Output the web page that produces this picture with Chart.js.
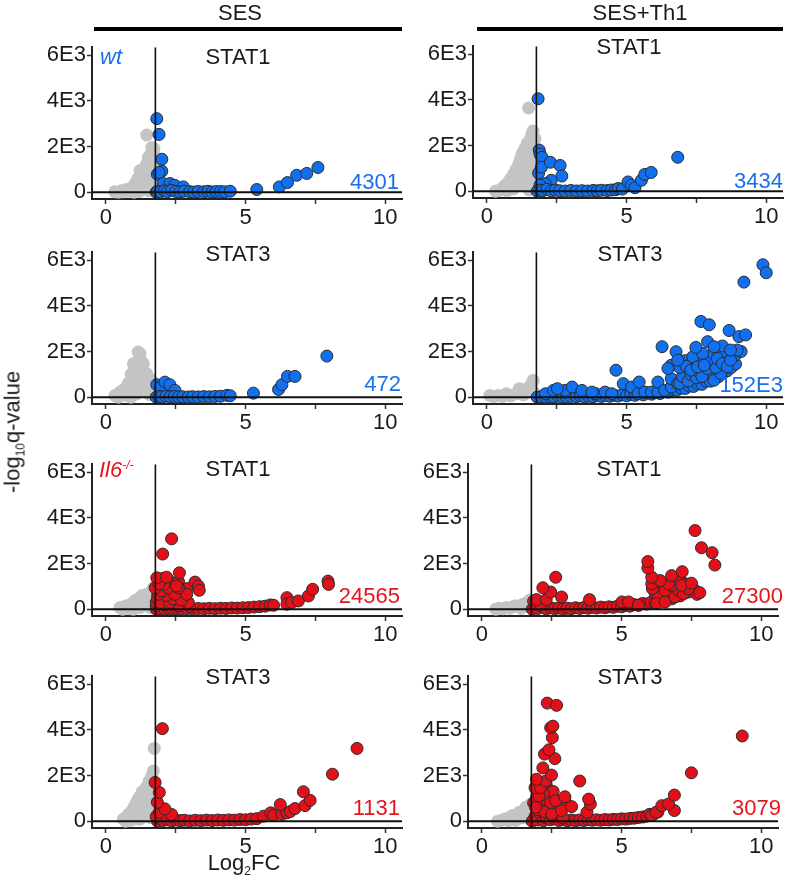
<!DOCTYPE html>
<html>
<head>
<meta charset="utf-8">
<script src="https://cdn.jsdelivr.net/npm/chart.js@4.4.0/dist/chart.umd.min.js"></script>
<style>
  html, body { margin: 0; padding: 0; background: #fff; }
  #page { position: relative; width: 788px; height: 883px; overflow: hidden; font-family: "Liberation Sans", Arial, sans-serif; color: #1a1a1a; }
  canvas { position: absolute; }
  .t { position: absolute; white-space: nowrap; line-height: 1; font-size: 22px; }
  .c { transform: translate(-50%, -50%); }
  .r { transform: translateY(-50%); text-align: right; }
  .l { transform: translateY(-50%); }
  .bar { position: absolute; background: #000; height: 4px; }
  sup { font-size: 12px; vertical-align: 8px; }
  sub { font-size: 12px; vertical-align: -5px; }
</style>
</head>
<body>
<div id="page"></div>
<script>
// ---------------- data ----------------
const columns = ['SES', 'SES+Th1'];
const panelTitles = ['STAT1', 'STAT1', 'STAT3', 'STAT3', 'STAT1', 'STAT1', 'STAT3', 'STAT3'];
const counts = ['4301', '3434', '472', '152E3', '24565', '27300', '1131', '3079'];
const xTicks = [0, 2.5, 5, 7.5, 10];
const yTicks = [0, 2000, 4000, 6000];
const yTickLabels = ['0', '2E3', '4E3', '6E3'];
const threshold = 1.77;

const sesWtStat1Grey = [[0.32,14],[0.45,0],[0.62,14],[0.8,40],[0.92,86],[1.0,0],[1.1,230],[1.22,445],[1.22,948],[1.34,733],[1.3,120],[1.46,517],[1.46,1236],[1.52,1523],[1.58,1092],[1.64,805],[1.64,1954],[1.7,1810],[1.7,230],[1.76,1523],[1.46,2500],[1.55,60],[1.68,600],[1.2,30],
  [0.55,60],[0.7,100],[0.85,150],[1.0,250],[1.05,400],[1.15,600],[1.3,900],[1.4,1100],[1.5,800],[1.55,1350],[1.6,1650],[1.68,1200],[1.72,1900],[1.75,900],[1.4,400],[1.6,300]];
const sesWtStat1Sig = [[1.82,3220],[1.9,2530],[2.0,1440],[2.0,920],[1.84,780],[1.9,860],[2.05,375],[2.29,375],[2.46,300],[2.77,230],[1.8,0],[1.85,40],[1.95,10],[2.1,60],[2.2,20],[2.35,80],[2.5,30],[2.65,10],[2.8,40],[3.0,20],[3.15,5],[3.3,30],[3.5,15],[3.65,40],[3.8,10],[3.95,25],[4.1,30],[4.25,15],[4.45,40],[5.4,115],[6.21,230],[6.5,420],[6.83,740],[7.19,820],[7.59,1080]];

const sesTh1WtStat1Grey = [[0.31,0],[0.45,40],[0.55,115],[0.7,20],[0.78,403],[0.78,50],[0.96,763],[0.95,100],[1.14,1195],[1.14,260],[1.26,1627],[1.38,1915],[1.38,907],[1.56,2275],[1.56,763],[1.61,2490],[1.61,1339],[1.65,2636],[1.67,330],[1.49,3643],[1.3,500],[1.5,60],[1.7,1000],
  [0.65,250],[0.85,550],[1.05,950],[1.2,1400],[1.32,1750],[1.45,2100],[1.5,1600],[1.62,2000],[1.7,1700],[1.72,2300],[1.45,1200],[1.25,800],[1.6,600],[1.75,400]];
const sesTh1WtStat1Sig = [[1.83,4046],[1.87,1800],[1.9,1627],[1.97,1483],[1.85,792],[1.95,1050],[2.27,1267],[2.62,1123],[2.68,662],[2.3,475],[2.08,330],[1.9,260],[1.8,0],[1.9,50],[2.0,20],[2.15,80],[2.3,10],[2.45,40],[2.6,20],[2.8,5],[3.0,30],[3.2,10],[3.4,20],[3.6,5],[3.8,30],[3.95,15],[4.1,40],[4.3,25],[4.45,50],[4.6,60],[4.7,115],[4.85,90],[5.05,403],[5.17,260],[5.3,150],[5.53,475],[5.65,733],[5.88,820],[6.83,1483]];

const sesWtStat3Grey = [[0.32,73],[0.5,220],[0.45,0],[0.74,440],[0.74,73],[0.9,0],[0.94,732],[0.98,1464],[1.1,1025],[1.1,147],[1.15,1975],[1.22,1900],[1.25,1600],[1.34,1464],[1.34,658],[1.46,1025],[1.46,440],[1.55,120],[1.6,800],[1.3,300],[1.0,300],
  [0.6,300],[0.8,600],[0.9,1000],[1.05,1300],[1.2,1700],[1.3,1200],[1.4,900],[1.5,600],[1.55,350],[1.2,500],[0.85,200],[1.05,700]];
const sesWtStat3Sig = [[1.82,544],[1.96,440],[2.11,658],[2.29,544],[2.47,294],[1.8,0],[1.9,30],[2.0,10],[2.15,40],[2.3,15],[2.45,30],[2.6,10],[2.75,20],[2.95,5],[3.1,20],[3.3,10],[3.5,25],[3.7,15],[3.9,30],[4.1,40],[4.33,79],[4.45,60],[5.28,176],[6.18,338],[6.3,544],[6.5,909],[6.77,909],[7.91,1800]];

const sesTh1WtStat3Grey = [[0.1,75],[0.25,20],[0.4,75],[0.55,30],[0.69,150],[0.85,60],[1.04,150],[1.16,370],[1.3,100],[1.36,221],[1.51,442],[1.63,663],[1.66,738],[1.7,200]];
const sesTh1WtStat3Sig = [[1.8,0],[1.95,20],[2.1,5],[2.25,30],[2.4,10],[2.55,40],[2.7,15],[2.85,5],[3.0,30],[3.2,20],[3.35,50],[3.5,10],[3.65,40],[3.8,20],[3.95,60],[4.1,30],[4.25,70],[4.4,40],[4.55,80],[4.7,50],[4.85,100],[5.0,60],[5.15,120],[5.3,80],[5.45,150],[5.6,100],[5.75,180],[5.9,130],[6.05,200],[6.2,160],[6.35,250],[6.5,220],[6.65,320],[6.8,300],[6.95,400],[7.1,380],[7.25,480],[7.4,470],[7.55,580],[7.7,560],[7.85,700],[8.0,700],[8.15,850],[8.3,900],[8.45,1050],[8.6,1150],[8.75,1300],[8.9,1450],
  [2.1,150],[2.8,300],[3.9,150],[2.38,296],[2.52,370],[3.05,442],[3.4,296],[3.76,221],[4.23,221],[4.47,150],[4.62,1180],[4.88,592],[5.18,442],[5.41,150],[5.45,663],[5.65,221],[5.89,221],[6.12,221],[6.12,663],[6.36,296],[6.6,442],[6.6,811],[6.83,592],[7.07,738],[7.3,884],[7.78,1034],[8.01,1105],[8.13,738],[8.37,1034],
  [6.9,600],[7.0,900],[7.2,700],[7.3,1000],[7.5,850],[7.6,1100],[7.7,900],[7.9,1250],[8.05,1500],[8.2,1300],[8.3,1800],[8.5,1700],[8.6,2000],[8.8,1800],[6.6,1400],[6.9,1300],[7.1,1600],[7.4,1500],[7.6,1700],[7.9,1600],[8.1,1900],[8.4,1950],[8.9,1850],[9.1,2000],
  [6.48,1254],[7.13,1357],[7.37,1768],[7.72,1918],[7.3,1180],[7.54,1326],[7.78,1400],[8.25,1697],[8.43,1476],[8.6,1326],[8.72,1622],[6.77,1990],[6.83,1622],[6.27,2210],[7.48,2180],[7.9,2430],[8.43,2240],[8.13,2210],[8.96,2064],[8.72,2064],
  [7.66,3316],[7.96,3170],[8.67,2920],[9.02,2652],[9.26,2727],[9.2,5040],[9.88,5800],[10.0,5450]];

const sesIl6Stat1Grey = [[0.5,72],[0.6,0],[0.74,145],[0.85,20],[0.98,289],[0.98,0],[1.1,150],[1.22,506],[1.22,72],[1.35,300],[1.46,651],[1.46,289],[1.58,72],[1.64,796],[1.7,400],[1.72,950],
  [0.65,100],[0.9,200],[1.05,380],[1.3,600],[1.5,480],[1.6,600],[1.75,700],[1.3,150]];
const sesIl6Stat1Sig = [[1.8,0],[1.95,20],[2.1,0],[2.25,30],[2.4,10],[2.55,20],[2.7,5],[2.9,25],[3.1,10],[3.3,30],[3.5,15],[3.7,35],[3.9,20],[4.1,40],[4.3,30],[4.5,50],[4.7,45],[4.9,60],[5.1,70],[5.3,90],[5.5,110],[5.7,130],[5.88,186],[6.0,170],
  [1.8,150],[1.8,300],[1.85,600],[1.95,800],[2.05,500],[2.2,350],[2.35,700],[2.45,950],[2.55,600],[2.7,800],[2.8,500],[2.5,300],[2.3,1200],[1.9,1200],[2.05,1350],[2.6,1200],[2.9,900],
  [1.85,450],[2.1,200],[2.6,150],[3.0,120],[1.94,289],[2.29,289],[2.95,289],[2.4,450],[2.7,400],[2.15,600],[2.47,651],[2.89,651],[1.88,651],[2.0,800],[1.76,938],[2.23,938],[2.6,938],[2.53,1011],[2.07,1085],[1.9,1100],[1.82,1372],[2.17,1400],[3.19,1185],[3.31,1011],[3.34,825],[2.63,1590],[2.03,2414],[2.35,3080],
  [6.48,504],[6.48,217],[6.65,289],[6.89,360],[7.25,577],[7.4,868],[7.95,1228],[7.97,1085]];

const sesTh1Il6Stat1Grey = [[0.5,0],[0.6,40],[0.75,20],[0.86,72],[1.0,40],[1.1,100],[1.21,144],[1.35,120],[1.45,200],[1.57,245],[1.65,300],[1.72,400],[1.4,30],[1.7,100]];
const sesTh1Il6Stat1Sig = [[1.8,0],[1.9,150],[2.0,30],[2.15,100],[2.3,10],[2.45,60],[2.6,20],[2.75,50],[2.9,10],[3.05,40],[3.2,20],[3.35,60],[3.5,30],[3.65,70],[3.8,40],[3.95,80],[4.1,50],[4.25,90],[4.4,60],[4.55,100],[4.7,80],[4.85,130],[5.0,100],[5.15,160],[5.3,130],[5.45,200],[5.6,170],[5.75,250],[5.9,220],[6.05,300],[6.2,280],[6.35,380],[6.5,360],[6.65,460],[6.8,450],[6.95,560],[7.1,580],[7.25,700],[7.4,750],[7.55,900],
  [1.85,350],[1.95,250],[2.05,300],[2.1,200],[1.95,418],[2.3,418],[2.46,749],[2.18,937],[2.64,1397],[2.85,533],[3.85,418],[5.01,317],[5.25,317],[5.6,173],
  [6.2,700],[6.4,900],[6.6,1000],[6.9,1200],[7.1,1300],[7.3,1100],[7.45,1000],[6.3,500],[6.7,650],[7.0,700],[7.6,850],[7.7,650],[6.1,900],[6.2,1200],
  [6.26,245],[6.56,317],[6.91,533],[6.56,821],[7.03,821],[7.21,677],[7.39,893],[7.8,720],[6.79,1037],[7.15,1037],[6.68,1110],[7.5,1138],[6.08,1110],[6.38,1253],[6.08,1397],[6.79,1469],[7.17,1642],[5.94,1800],[5.94,2087],
  [7.63,3443],[7.86,2691],[8.24,2475],[8.34,1930]];

const sesIl6Stat3Grey = [[0.62,83],[0.7,0],[0.8,291],[0.9,40],[0.98,551],[1.1,825],[1.1,100],[1.22,1085],[1.22,83],[1.34,681],[1.46,1519],[1.52,968],[1.52,391],[1.64,1983],[1.64,1259],[1.73,3186],[1.6,150],[1.4,300],[1.7,700],
  [0.75,200],[0.9,400],[1.05,700],[1.15,950],[1.3,1300],[1.4,1000],[1.55,1750],[1.6,1400],[1.7,2200],[1.72,1000],[1.5,700],[1.35,500]];
const sesIl6Stat3Sig = [[1.85,0],[1.95,100],[2.05,30],[2.2,60],[2.35,10],[2.5,50],[2.65,20],[2.8,40],[3.0,10],[3.2,40],[3.4,20],[3.6,45],[3.8,25],[4.0,50],[4.2,35],[4.4,55],[4.6,45],[4.8,70],[5.0,60],[5.2,90],[5.4,110],[5.64,217],[5.9,365],[6.0,250],[6.3,300],[6.48,365],[6.6,420],[6.77,551],[6.24,725],[7.13,681],[7.31,911],[7.07,1289],
  [1.8,200],[2.35,291],[1.91,391],[2.11,538],[1.84,825],[1.91,1259],[1.76,1693],[2.02,4053],[8.11,2057],[8.99,3186]];

const sesTh1Il6Stat3Grey = [[0.56,0],[0.7,40],[0.85,101],[0.95,20],[1.09,245],[1.21,29],[1.33,389],[1.45,150],[1.57,605],[1.63,317],[1.75,749],[1.7,100]];
const sesTh1Il6Stat3Sig = [[1.8,0],[1.9,200],[2.0,50],[2.1,300],[2.2,20],[2.3,150],[2.45,60],[2.6,100],[2.75,30],[2.9,60],[3.05,20],[3.2,50],[3.35,20],[3.5,50],[3.65,30],[3.8,60],[3.95,40],[4.1,60],[4.25,40],[4.4,70],[4.55,50],[4.7,80],[4.85,70],[5.0,100],[5.15,90],[5.3,120],[5.45,130],[5.6,160],[5.75,180],[5.9,220],[6.0,300],[6.1,250],[6.3,400],
  [1.85,800],[1.95,1000],[2.05,700],[2.15,1300],[2.3,1600],[2.35,900],[2.55,1300],[2.0,500],[2.25,400],[2.5,250],[2.8,400],[3.0,800],[2.65,450],[2.9,150],
  [1.92,605],[2.5,320],[2.85,462],[3.76,389],[3.21,635],[2.46,821],[2.64,894],[3.88,749],[3.82,965],[2.97,1067],[2.2,1184],[2.04,1110],[1.9,1469],[2.1,1469],[2.28,1758],[1.95,1832],[3.5,1758],[2.49,2017],[2.18,2333],[2.61,2739],[2.24,2938],[2.4,3127],[2.52,3659],[2.46,4091],[2.54,4163],[2.34,5171],[2.67,5072],
  [6.08,246],[6.24,389],[6.44,678],[6.89,462],[6.68,752],[6.89,1141],[7.5,2117],[9.32,3732]];

// ---------------- styling / layout ----------------
const BLUE = '#1170f0', BLUE_TXT = '#1a6ff0';
const RED = '#e3101a', RED_TXT = '#e8141c';
const FONT = '"Liberation Sans", Arial, sans-serif';
const xRange = [-0.5, 10.6];
const yRange = [-300, 6350];
const AREA_W = 310, AREA_H = 154, PAD_L = 70, PAD_T = 12, PAD_R = 8, PAD_B = 34;

const panels = [
  { grey: sesWtStat1Grey,      sig: sesWtStat1Sig,      color: BLUE, txt: BLUE_TXT, left: 92,  top: 45,  titleX: 238, titleY: 57,  countX: 399, countY: 182 },
  { grey: sesTh1WtStat1Grey,   sig: sesTh1WtStat1Sig,   color: BLUE, txt: BLUE_TXT, left: 473, top: 44,  titleX: 629, titleY: 47,  countX: 783, countY: 181 },
  { grey: sesWtStat3Grey,      sig: sesWtStat3Sig,      color: BLUE, txt: BLUE_TXT, left: 92,  top: 250, titleX: 238, titleY: 254, countX: 401, countY: 384 },
  { grey: sesTh1WtStat3Grey,   sig: sesTh1WtStat3Sig,   color: BLUE, txt: BLUE_TXT, left: 473, top: 250, titleX: 630, titleY: 254, countX: 783, countY: 385 },
  { grey: sesIl6Stat1Grey,     sig: sesIl6Stat1Sig,     color: RED,  txt: RED_TXT,  left: 92,  top: 462, titleX: 238, titleY: 469, countX: 400, countY: 596 },
  { grey: sesTh1Il6Stat1Grey,  sig: sesTh1Il6Stat1Sig,  color: RED,  txt: RED_TXT,  left: 468, top: 462, titleX: 629, titleY: 469, countX: 783, countY: 596 },
  { grey: sesIl6Stat3Grey,     sig: sesIl6Stat3Sig,     color: RED,  txt: RED_TXT,  left: 92,  top: 674, titleX: 238, titleY: 677, countX: 400, countY: 808 },
  { grey: sesTh1Il6Stat3Grey,  sig: sesTh1Il6Stat3Sig,  color: RED,  txt: RED_TXT,  left: 468, top: 674, titleX: 630, titleY: 677, countX: 781, countY: 808 }
];

const page = document.getElementById('page');
function addText(html, cls, styles) {
  const d = document.createElement('div');
  d.className = 't ' + cls;
  d.innerHTML = html;
  Object.assign(d.style, styles);
  page.appendChild(d);
  return d;
}

const toXY = arr => arr.map(([x, y]) => ({ x, y }));

panels.forEach((p, i) => {
  const cv = document.createElement('canvas');
  const W = PAD_L + AREA_W + PAD_R, H = PAD_T + AREA_H + PAD_B;
  cv.width = W; cv.height = H;
  cv.style.left = (p.left - PAD_L) + 'px';
  cv.style.top = (p.top - PAD_T) + 'px';
  page.appendChild(cv);

  new Chart(cv, {
    type: 'scatter',
    data: {
      datasets: [
        { type: 'line', showLine: true, data: [{ x: threshold, y: yRange[0] }, { x: threshold, y: yRange[1] }],
          borderColor: '#111', borderWidth: 1.6, pointRadius: 0, order: 0 },
        { type: 'line', showLine: true, data: [{ x: xRange[0], y: 0 }, { x: xRange[1], y: 0 }],
          borderColor: '#111', borderWidth: 2, pointRadius: 0, order: 0 },
        { data: toXY(p.sig), backgroundColor: p.color, borderColor: '#2b2b2b', borderWidth: 1, pointRadius: 6, order: 1 },
        { data: toXY(p.grey), backgroundColor: '#c4c4c4', borderWidth: 0, pointRadius: 6.5, order: 2 }
      ]
    },
    options: {
      responsive: false, animation: false, events: [],
      layout: { padding: { left: 0, right: PAD_R, top: PAD_T, bottom: 0 } },
      plugins: { legend: { display: false }, tooltip: { enabled: false } },
      scales: {
        x: {
          type: 'linear', min: xRange[0], max: xRange[1],
          afterBuildTicks: s => { s.ticks = xTicks.map(v => ({ value: v })); },
          afterFit: s => { s.height = PAD_B; },
          ticks: { autoSkip: false, maxRotation: 0, padding: 1, color: '#1a1a1a', font: { family: FONT, size: 22 },
                   callback: v => (v % 5 === 0 ? String(v) : '') },
          grid: { display: true, drawOnChartArea: false, drawTicks: true, tickLength: 5, tickColor: '#333', tickWidth: 1.5 },
          border: { display: true, color: '#222', width: 2 }
        },
        y: {
          type: 'linear', min: yRange[0], max: yRange[1],
          afterBuildTicks: s => { s.ticks = yTicks.map(v => ({ value: v })); },
          afterFit: s => { s.width = PAD_L; },
          ticks: { autoSkip: false, padding: 1, color: '#1a1a1a', font: { family: FONT, size: 22 },
                   callback: v => yTickLabels[yTicks.indexOf(v)] },
          grid: { display: true, drawOnChartArea: false, drawTicks: true, tickLength: 5, tickColor: '#333', tickWidth: 1.5 },
          border: { display: true, color: '#222', width: 2 }
        }
      }
    }
  });

  addText(panelTitles[i], 'c', { left: p.titleX + 'px', top: p.titleY + 'px' });
  addText(counts[i], 'r', { right: (788 - p.countX) + 'px', top: p.countY + 'px', color: p.txt });
});

// column headers and bars
addText(columns[0], 'c', { left: '240px', top: '13px' });
addText(columns[1], 'c', { left: '640px', top: '13px' });
const b1 = document.createElement('div'); b1.className = 'bar';
Object.assign(b1.style, { left: '94px', top: '27px', width: '308px' }); page.appendChild(b1);
const b2 = document.createElement('div'); b2.className = 'bar';
Object.assign(b2.style, { left: '477px', top: '27px', width: '306px' }); page.appendChild(b2);

// genotype labels
addText('<i>wt</i>', 'l', { left: '100px', top: '57px', color: BLUE_TXT });
addText('<i>Il6<sup>-/-</sup></i>', 'l', { left: '99px', top: '470px', color: RED_TXT });

// axis titles
addText('Log<sub>2</sub>FC', 'c', { left: '244px', top: '864px' });
const yt = addText('-log<sub>10</sub>q-value', '', { left: '14px', top: '432px' });
yt.style.transform = 'translate(-50%, -50%) rotate(-90deg)';
</script>
</body>
</html>
